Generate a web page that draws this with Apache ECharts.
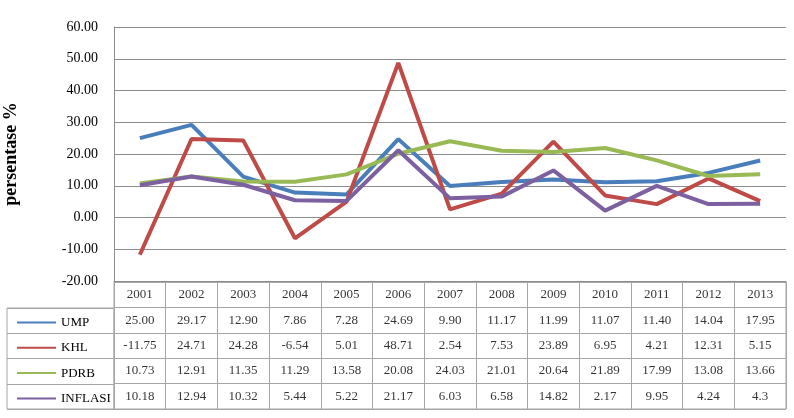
<!DOCTYPE html>
<html><head><meta charset="utf-8">
<script src="https://cdn.jsdelivr.net/npm/echarts@6/dist/echarts.min.js"></script>
<style>html,body{margin:0;padding:0;background:#fff}#c{width:794px;height:418px}</style>
</head><body><div id="c"></div>
<script>
var years = ['2001','2002','2003','2004','2005','2006','2007','2008','2009','2010','2011','2012','2013'];
var UMP = [25.00,29.17,12.90,7.86,7.28,24.69,9.90,11.17,11.99,11.07,11.40,14.04,17.95];
var KHL = [-11.75,24.71,24.28,-6.54,5.01,48.71,2.54,7.53,23.89,6.95,4.21,12.31,5.15];
var PDRB = [10.73,12.91,11.35,11.29,13.58,20.08,24.03,21.01,20.64,21.89,17.99,13.08,13.66];
var INFLASI = [10.18,12.94,10.32,5.44,5.22,21.17,6.03,6.58,14.82,2.17,9.95,4.24,4.3];
var seriesNames = ['UMP','KHL','PDRB','INFLASI'];
var seriesData = [UMP, KHL, PDRB, INFLASI];
var colors = ['#4A7EBB','#BE4B48','#98B954','#7D60A0'];
var yMin = -20, yMax = 60, yStep = 10;

var FONT = '"Liberation Serif","Times New Roman",serif';
var GRAY = '#8c8c8c';
var TGRAY = '#a6a6a6';

function fmt(name, v){ return name === 'INFLASI' ? String(v) : v.toFixed(2); }

var rows = ['hdr'].concat(seriesNames);
var cells = [];
years.forEach(function(y){ cells.push([y,'hdr',y]); });
seriesNames.forEach(function(n, si){
  seriesData[si].forEach(function(v, i){ cells.push([years[i], n, fmt(n, v)]); });
});

var series = seriesNames.map(function(n, i){
  return {name:n, type:'line', xAxisIndex:0, yAxisIndex:0, data:seriesData[i], symbol:'none',
    lineStyle:{width:4, color:colors[i]}, itemStyle:{color:colors[i]}, z:3, silent:true};
});
series.push({name:'table', type:'scatter', xAxisIndex:1, yAxisIndex:1, data:cells, symbolSize:1,
  itemStyle:{color:'transparent'}, silent:true,
  label:{show:true, position:'inside', formatter:function(p){return p.value[2];},
    color:'#000', fontFamily:FONT, fontSize:13}});

var chart = echarts.init(document.getElementById('c'), null, {renderer:'canvas'});
chart.setOption({
  animation:false,
  backgroundColor:'#fff',
  legend:{data:seriesNames, orient:'vertical', left:12, top:311, itemWidth:39, itemHeight:2, itemGap:12.3,
    icon:'rect', selectedMode:false,
    itemStyle:{borderWidth:0},
    textStyle:{fontFamily:FONT, fontSize:13, color:'#000', padding:[0,0,0,0]}},
  grid:[
    {left:114, right:8, top:27, height:254, outerBoundsMode:'none', containLabel:false},
    {left:114, right:8, top:282, height:127, show:true, borderColor:TGRAY, borderWidth:1, outerBoundsMode:'none', containLabel:false},
    {left:7, width:107, top:308, height:101, show:true, borderColor:TGRAY, borderWidth:1, outerBoundsMode:'none', containLabel:false}
  ],
  xAxis:[
    {gridIndex:0, type:'category', data:years, boundaryGap:true,
      axisLine:{onZero:false, lineStyle:{color:GRAY}}, axisTick:{show:false}, axisLabel:{show:false}},
    {gridIndex:1, type:'category', data:years, boundaryGap:true,
      axisLine:{show:false}, axisTick:{show:false}, axisLabel:{show:false},
      splitLine:{show:true, lineStyle:{color:TGRAY, width:1}}},
    {gridIndex:2, type:'value', min:0, max:1, show:false}
  ],
  yAxis:[
    {gridIndex:0, type:'value', min:yMin, max:yMax, interval:yStep,
      name:'persentase %', nameLocation:'middle', nameRotate:90, nameGap:94,
      nameTextStyle:{fontFamily:FONT, fontSize:18, fontWeight:'bold', color:'#000'},
      axisLine:{show:true, lineStyle:{color:GRAY}}, axisTick:{show:false},
      axisLabel:{formatter:function(v){return v.toFixed(2);}, fontFamily:FONT, fontSize:14, color:'#000', margin:16},
      splitLine:{show:true, lineStyle:{color:GRAY, width:1}}},
    {gridIndex:1, type:'category', data:rows, inverse:true,
      axisLine:{show:false}, axisTick:{show:false}, axisLabel:{show:false},
      splitLine:{show:true, lineStyle:{color:TGRAY, width:1}}},
    {gridIndex:2, type:'category', data:seriesNames, inverse:true,
      axisLine:{show:false}, axisTick:{show:false}, axisLabel:{show:false},
      splitLine:{show:true, lineStyle:{color:TGRAY, width:1}}}
  ],
  series:series
});
</script></body></html>
